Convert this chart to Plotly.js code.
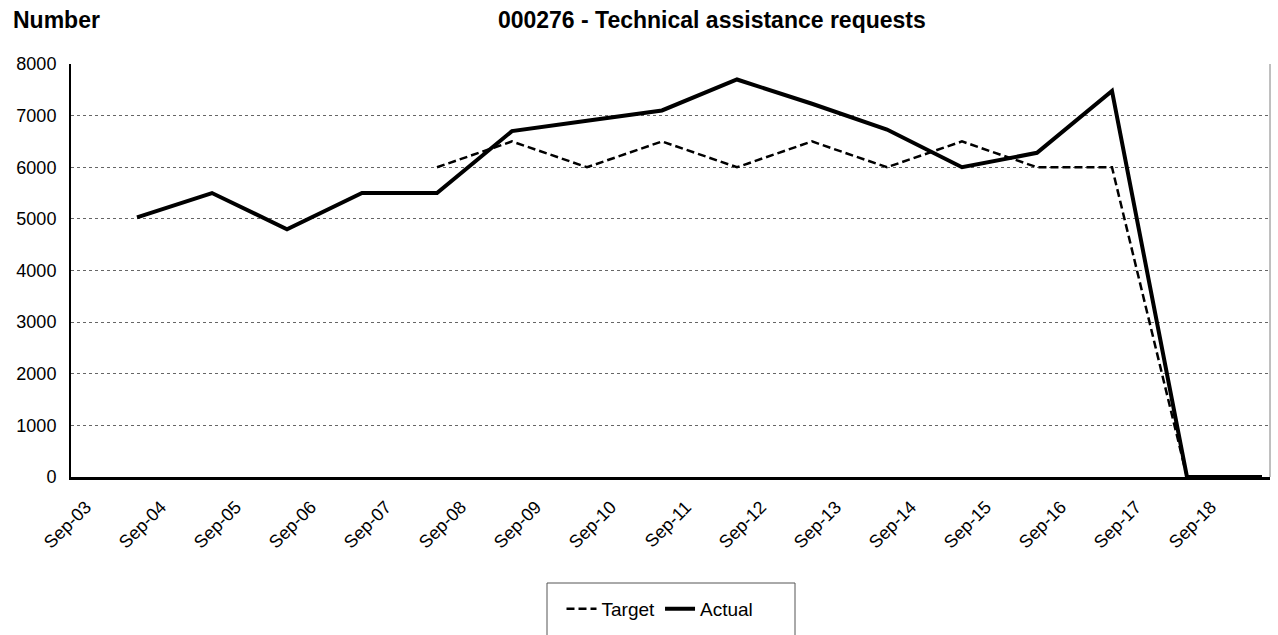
<!DOCTYPE html>
<html>
<head>
<meta charset="utf-8">
<script src="https://cdn.plot.ly/plotly-3.0.1.min.js"></script>
<style>html,body{margin:0;padding:0;background:#fff;}#chart{width:1278px;height:635px;}</style>
</head>
<body>
<div id="chart"></div>
<script>
const categories = ['Sep-03','Sep-04','Sep-05','Sep-06','Sep-07','Sep-08','Sep-09','Sep-10','Sep-11','Sep-12','Sep-13','Sep-14','Sep-15','Sep-16','Sep-17','Sep-18'];
const targetValues = [null, null, null, null, 6000, 6500, 6000, 6500, 6000, 6500, 6000, 6500, 6000, 6000, 0, null];
const actualValues = [5030, 5500, 4800, 5500, 5500, 6700, 6900, 7100, 7700, 7230, 6730, 6000, 6280, 7480, 0, 0];
const yTicks = [0, 1000, 2000, 3000, 4000, 5000, 6000, 7000, 8000];

const idx = categories.map((c, i) => i);
const labelShift = 0.68;
const FONT = 'Liberation Sans, Arial, sans-serif';

const traces = [
  {x: idx, y: targetValues, name: 'Target', type: 'scatter', mode: 'lines',
   line: {color: '#000', width: 2.5, dash: '8px,4px'}, connectgaps: false},
  {x: idx, y: actualValues, name: 'Actual', type: 'scatter', mode: 'lines',
   line: {color: '#000', width: 4}}
];

const layout = {
  width: 1278, height: 635,
  margin: {l: 71, r: 8, t: 64, b: 158, autoexpand: false},
  paper_bgcolor: '#fff', plot_bgcolor: '#fff',
  font: {family: FONT, color: '#000', size: 18},
  title: {text: '<b>000276 - Technical assistance requests</b>', font: {family: FONT, size: 23, color: '#000'},
          x: 0.557, xanchor: 'center', xref: 'container', y: 0.968, yanchor: 'middle', yref: 'container'},
  xaxis: {
    type: 'linear', range: [-0.88, 15.107], automargin: false,
    tickvals: idx.map(i => i - labelShift), ticktext: categories,
    tickangle: -45, ticks: 'outside', ticklen: 10, tickcolor: 'rgba(0,0,0,0)', showgrid: false, zeroline: false,
    showline: true, linecolor: '#000', linewidth: 2.5,
    tickfont: {family: FONT, size: 18, color: '#000'}
  },
  yaxis: {
    range: [0, 8000], tickvals: yTicks, ticks: '', ticklabelstandoff: 9, automargin: false,
    showgrid: true, gridcolor: '#666', gridwidth: 1, griddash: 'dot',
    zeroline: false, showline: true, linecolor: '#000', linewidth: 2,
    tickfont: {family: FONT, size: 18, color: '#000'}
  },
  showlegend: true,
  legend: {orientation: 'h', x: (660-71)/1199, xanchor: 'center', xref: 'paper', y: 26/635, yanchor: 'middle', yref: 'container',
           font: {family: FONT, size: 19, color: '#000'}, bgcolor: 'rgba(0,0,0,0)', borderwidth: 0},
  annotations: [
    {text: '<b>Number</b>', xref: 'paper', yref: 'paper', x: -71/1199, y: 1 + 44/413, xanchor: 'left', yanchor: 'middle',
     showarrow: false, font: {family: FONT, size: 23, color: '#000'}, xshift: 11}
  ],
  shapes: [
    {type: 'line', xref: 'paper', yref: 'paper', x0: 1, x1: 1, y0: 0, y1: 1, line: {color: '#808080', width: 1}},
    {type: 'rect', xref: 'paper', yref: 'paper', x0: (547-71)/1199, x1: (795-71)/1199, y0: -106/413, y1: -180/413,
     line: {color: '#555', width: 1}, fillcolor: 'rgba(0,0,0,0)'}
  ]
};

Plotly.newPlot('chart', traces, layout, {displayModeBar: false, staticPlot: true});
</script>
</body>
</html>
